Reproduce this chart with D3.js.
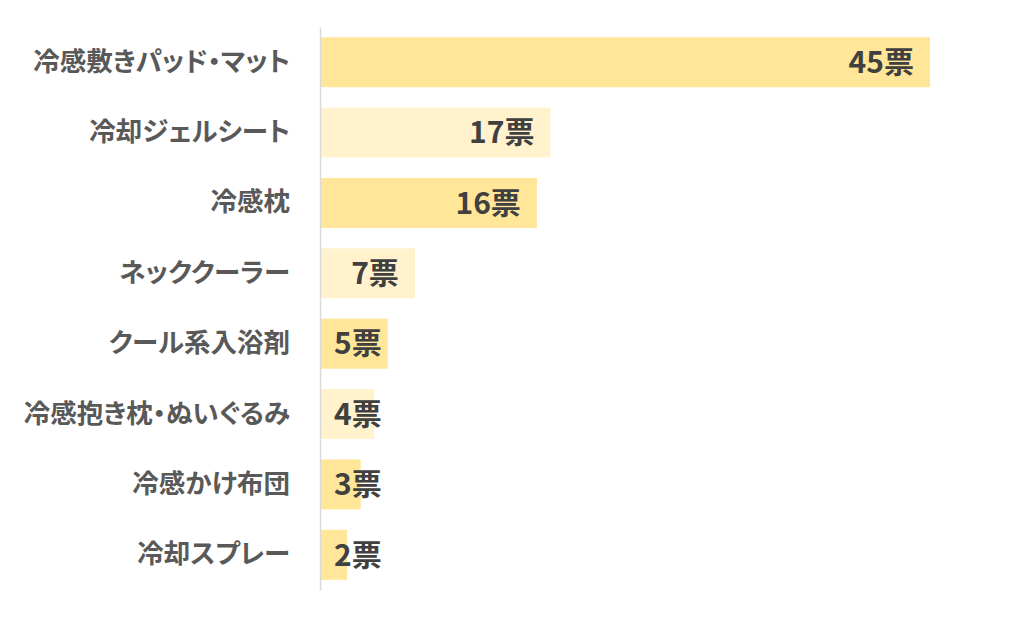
<!DOCTYPE html>
<html><head><meta charset="utf-8">
<script src="https://cdn.jsdelivr.net/npm/d3@7"></script>
<style>html,body{margin:0;padding:0;background:#fff;}</style>
</head><body>
<svg id="c" width="1024" height="618"></svg>
<script>
const categories = ["冷感敷きパッド・マット","冷却ジェルシート","冷感枕","ネッククーラー","クール系入浴剤","冷感抱き枕・ぬいぐるみ","冷感かけ布団","冷却スプレー"];
const values = [45,17,16,7,5,4,3,2];
const barColors = ["#FFE699","#FFF2CC","#FFE699","#FFF2CC","#FFE699","#FFF2CC","#FFE699","#FFE699"];
const unit = "票";

const svg = d3.select("#c");
const font = "'Noto Sans CJK JP','Noto Sans',sans-serif";
const x = d3.scaleLinear().domain([0,45]).range([320,930]);
const y = d3.scaleBand().domain(categories).range([27,590]).paddingInner(0.29).paddingOuter(0.145);

svg.selectAll("rect.bar").data(categories).join("rect")
  .attr("class","bar")
  .attr("x", x(0))
  .attr("y", d=>y(d))
  .attr("width", (d,i)=>x(values[i])-x(0))
  .attr("height", y.bandwidth())
  .attr("fill", (d,i)=>barColors[i]);

const yAxis = d3.axisLeft(y).tickSize(0).tickPadding(30);
const g = svg.append("g").attr("transform",`translate(${x(0)},0)`).call(yAxis);
g.select(".domain").attr("stroke","#d9d9d9").attr("stroke-width",1.5);
g.selectAll(".tick text")
  .attr("fill","#595959")
  .style("font-family",font)
  .style("font-size","26.5px")
  .style("font-weight","bold")
  .style("font-feature-settings","'palt'");

const labels = svg.selectAll("text.val").data(categories).join("text")
  .attr("class","val")
  .attr("y", d=>y(d)+y.bandwidth()/2)
  .attr("dy","0.36em")
  .attr("text-anchor","end")
  .attr("fill","#404040")
  .style("font-family",font)
  .style("font-size","30px")
  .style("font-weight","bold")
  .text((d,i)=>values[i]+unit);
labels.each(function(d,i){
  const w = this.getComputedTextLength();
  const xr = Math.max(x(values[i]) - 16, x(0) + 14 + w);
  d3.select(this).attr("x", xr);
});
</script>
</body></html>
